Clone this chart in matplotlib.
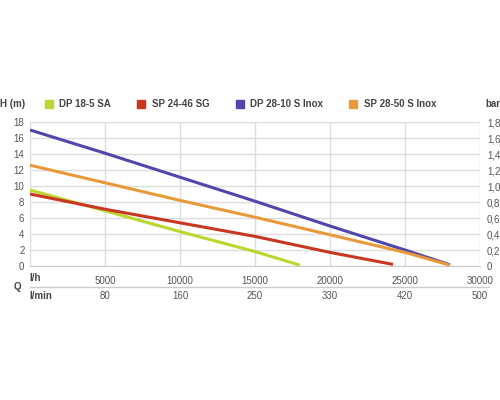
import matplotlib
matplotlib.use("Agg")
import matplotlib.pyplot as plt
import matplotlib.transforms as mtransforms
from matplotlib.lines import Line2D

plt.rcParams['font.family'] = ['Liberation Sans', 'DejaVu Sans']

# Förderkennlinien (Q in l/h, H in m)
names = ["DP 18-5 SA", "SP 24-46 SG", "DP 28-10 S Inox", "SP 28-50 S Inox"]
colors = ["#bcd52f", "#c8371f", "#5147ab", "#e8993a"]

q_dp18 = [0, 5000, 10000, 15000, 18000]
h_dp18 = [9.5, 6.9, 4.3, 1.8, 0.1]

q_sp24 = [0, 5000, 10000, 15000, 20000, 24200]
h_sp24 = [9.0, 7.1, 5.4, 3.7, 1.7, 0.2]

q_dp28 = [0, 5000, 10000, 15000, 20000, 25000, 28000]
h_dp28 = [17.0, 14.1, 11.1, 8.1, 5.0, 2.0, 0.15]

q_sp28 = [0, 5000, 10000, 15000, 20000, 25000, 28000]
h_sp28 = [12.6, 10.4, 8.2, 6.1, 3.9, 1.7, 0.1]

xticks = [5000, 10000, 15000, 20000, 25000, 30000]
lmin_labels = ["80", "160", "250", "330", "420", "500"]
h_ticks = [0, 2, 4, 6, 8, 10, 12, 14, 16, 18]
bar_labels = ["0", "0,2", "0,4", "0,6", "0,8", "1,0", "1,2", "1,4", "1,6", "1,8"]

fig = plt.figure(figsize=(5, 4), dpi=100)
ax = fig.add_axes([0.06, 0.335, 0.90, 0.36])

series = [(q_dp18, h_dp18), (q_sp24, h_sp24), (q_dp28, h_dp28), (q_sp28, h_sp28)]
for (q, h), c in zip(series, colors):
    ax.plot(q, h, color=c, lw=2.2, solid_capstyle="butt")

ax.set_xlim(0, 30000)
ax.set_ylim(0, 18)
ax.set_xticks([0] + xticks)
ax.set_xticklabels([""] + [str(v) for v in xticks])
ax.set_yticks(h_ticks)
ax.grid(True, color="#dddddd", lw=1)
ax.set_axisbelow(True)
for s in ["top", "right", "left"]:
    ax.spines[s].set_visible(False)
ax.spines["bottom"].set_color("#cccccc")
ax.tick_params(length=0, labelsize=7, colors="#555555", pad=4)
ax.tick_params(axis="x", pad=7)

# rechte Achse in bar
ax2 = ax.twinx()
ax2.set_ylim(0, 18)
ax2.set_yticks(h_ticks)
ax2.set_yticklabels(bar_labels)
for s in ax2.spines.values():
    s.set_visible(False)
ax2.tick_params(length=0, labelsize=7, colors="#555555", pad=5)

# Q-Beschriftung unten
trans = mtransforms.blended_transform_factory(ax.transData, ax.transAxes)
for x, lab in zip(xticks, lmin_labels):
    ax.text(x, -0.208, lab, transform=trans, ha="center", va="center",
            fontsize=7, color="#555555")
ax.text(-0.002, -0.083, "l/h", transform=ax.transAxes, ha="left", va="center",
        fontsize=7, color="#444444", fontweight="bold")
ax.text(-0.002, -0.208, "l/min", transform=ax.transAxes, ha="left", va="center",
        fontsize=7, color="#444444", fontweight="bold")
ax.text(-0.027, -0.146, "Q", transform=ax.transAxes, ha="center", va="center",
        fontsize=7, color="#444444", fontweight="bold")
ax.plot([0, 1.02], [-0.146, -0.146], transform=ax.transAxes, color="#cccccc",
        lw=1, clip_on=False)

# Kopfzeile
fig.text(0.0, 0.74, "H (m)", ha="left", va="center", fontsize=7,
         color="#444444", fontweight="bold")
fig.text(0.97, 0.74, "bar", ha="left", va="center", fontsize=7,
         color="#444444", fontweight="bold")
handles = [Line2D([], [], ls="", marker="s", ms=6, color=c) for c in colors]
leg = fig.legend(handles, names, loc="center", bbox_to_anchor=(0.48, 0.74),
                 ncol=4, frameon=False, fontsize=7, handletextpad=0.6,
                 columnspacing=2.6, handlelength=1.0)
for t in leg.get_texts():
    t.set_color("#444444")
    t.set_fontweight("bold")

fig.savefig("out.png", dpi=100)
